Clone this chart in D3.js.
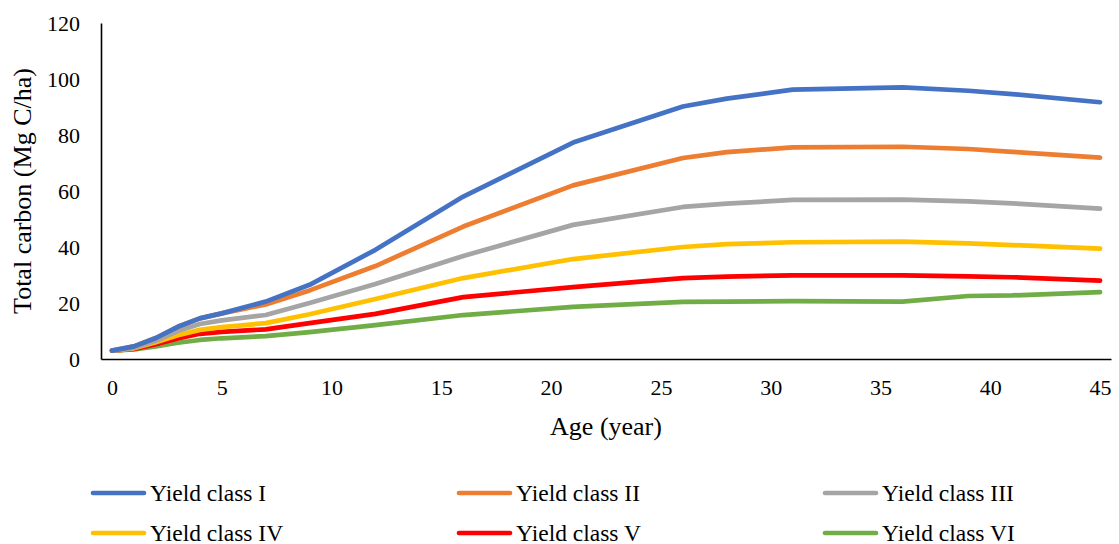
<!DOCTYPE html>
<html>
<head>
<meta charset="utf-8">
<script src="https://cdn.jsdelivr.net/npm/d3@7"></script>
</head>
<body style="margin:0;background:#fff">
<svg id="chart" width="1119" height="544" style="display:block"></svg>
<script>
// ---- data ----
const ages = [0, 1, 2, 3, 4, 5, 7, 9, 12, 16, 21, 26, 28, 31, 36, 39, 41, 45];
const seriesNames = ["Yield class I", "Yield class II", "Yield class III", "Yield class IV", "Yield class V", "Yield class VI"];
const classI   = [3, 4.5, 7.5, 11.5, 14.5, 16.3, 20.5, 26.5, 39, 58, 77.3, 90.2, 93, 96.2, 97, 95.8, 94.6, 91.7];
const classII  = [3, 4.5, 7.5, 11.5, 14.5, 16.3, 19.5, 24.5, 33.2, 47.3, 62, 71.8, 73.9, 75.6, 75.8, 75, 74, 71.9];
const classIII = [3, 4, 6.5, 10, 12.5, 13.8, 15.7, 20, 26.8, 36.8, 47.9, 54.3, 55.5, 56.8, 56.9, 56.3, 55.6, 53.7];
const classIV  = [3, 3.8, 6, 8.5, 10.4, 11.4, 12.8, 16, 21.4, 28.9, 35.7, 40, 41, 41.7, 41.9, 41.3, 40.7, 39.4];
const classV   = [3, 3.6, 5.3, 7.3, 9, 9.7, 10.6, 12.8, 16.1, 22.1, 25.7, 28.9, 29.4, 29.9, 29.9, 29.5, 29.2, 28];
const classVI  = [3, 3.4, 4.5, 5.8, 6.8, 7.4, 8.2, 9.6, 12.1, 15.7, 18.6, 20.4, 20.5, 20.7, 20.5, 22.5, 22.7, 23.9];
const xTicks = [0, 5, 10, 15, 20, 25, 30, 35, 40, 45];
const yTicks = [0, 20, 40, 60, 80, 100, 120];
const colors = ["#4472C4", "#ED7D31", "#A5A5A5", "#FFC000", "#FF0000", "#70AD47"];

const allSeries = [classI, classII, classIII, classIV, classV, classVI];
const FONT = '"Liberation Serif"';

// ---- layout ----
const svg = d3.select("#chart");
const plot = { left: 101, right: 1111, top: 23, bottom: 359 };

const x = d3.scaleLinear().domain([-0.5, 45.5]).range([plot.left, plot.right]);
const y = d3.scaleLinear().domain([0, 120]).range([plot.bottom, plot.top]);

// y axis
const yAxis = d3.axisLeft(y).tickValues(yTicks).tickSize(0).tickPadding(21);
const gy = svg.append("g").attr("transform", `translate(${plot.left},0)`).call(yAxis);
gy.attr("font-family", null).attr("font-size", null);
gy.select(".domain").attr("stroke", "#000").attr("stroke-width", 1.6);
gy.selectAll("text").style("font-family", FONT).style("font-size", "22px").attr("fill", "#000");

// x axis
const xAxis = d3.axisBottom(x).tickValues(xTicks).tickSize(0).tickPadding(20);
const gx = svg.append("g").attr("transform", `translate(0,${plot.bottom})`).call(xAxis);
gx.attr("font-family", null).attr("font-size", null);
gx.select(".domain").attr("stroke", "#000").attr("stroke-width", 1.6);
gx.selectAll("text").style("font-family", FONT).style("font-size", "22px").attr("fill", "#000");

// axis titles
svg.append("text")
  .attr("x", (plot.left + plot.right) / 2)
  .attr("y", 435)
  .attr("text-anchor", "middle")
  .style("font-family", FONT)
  .style("font-size", "26px")
  .text("Age (year)");

svg.append("text")
  .attr("transform", `translate(31,${(plot.top + plot.bottom) / 2}) rotate(-90)`)
  .attr("text-anchor", "middle")
  .style("font-family", FONT)
  .style("font-size", "26px")
  .text("Total carbon (Mg C/ha)");

// lines
const line = d3.line()
  .x((d, i) => x(ages[i]))
  .y(d => y(d))
  .curve(d3.curveLinear);

allSeries.map((s, i) => ({ s, i })).reverse().forEach(({ s, i }) => {
  svg.append("path")
    .datum(s)
    .attr("fill", "none")
    .attr("stroke", colors[i])
    .attr("stroke-width", 4.7)
    .attr("stroke-linecap", "round")
    .attr("stroke-linejoin", "round")
    .attr("d", line);
});

// legend
const legCols = [91, 457, 823];
const legRows = [493, 533];
seriesNames.forEach((name, i) => {
  const cx = legCols[i % 3];
  const cy = legRows[Math.floor(i / 3)];
  const g = svg.append("g");
  g.append("line")
    .attr("x1", cx + 2).attr("x2", cx + 53)
    .attr("y1", cy).attr("y2", cy)
    .attr("stroke", colors[i])
    .attr("stroke-width", 4.7)
    .attr("stroke-linecap", "round");
  g.append("text")
    .attr("x", cx + 59)
    .attr("y", cy + 7.5)
    .style("font-family", FONT)
    .style("font-size", "23.5px")
    .text(name);
});
</script>
</body>
</html>
